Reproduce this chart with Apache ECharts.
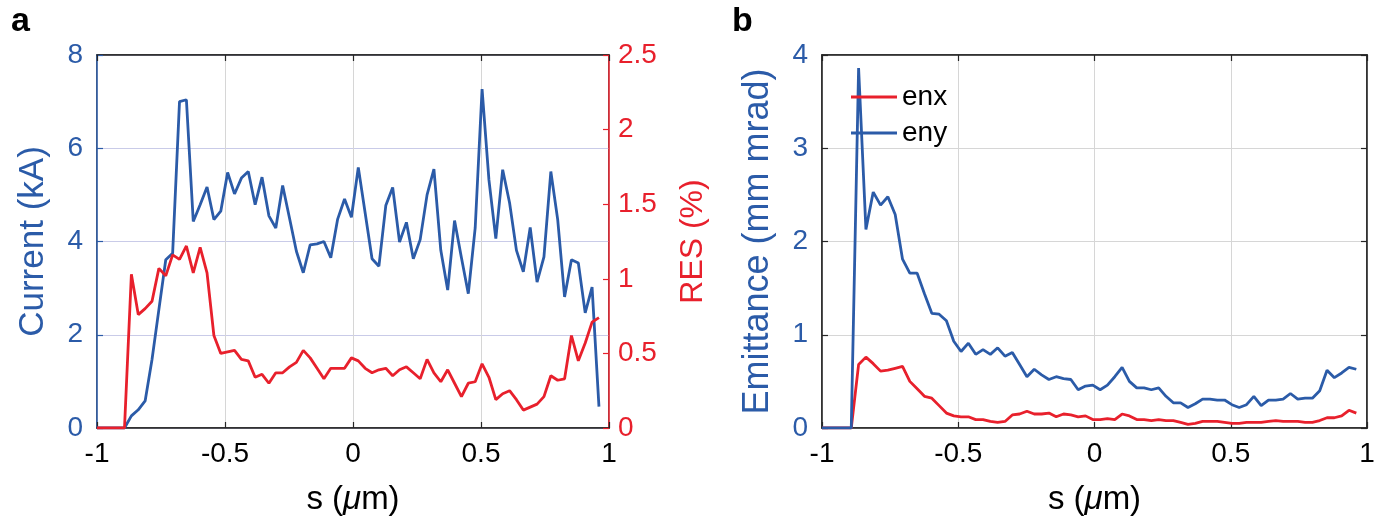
<!DOCTYPE html>
<html>
<head>
<meta charset="utf-8">
<script src="https://cdn.jsdelivr.net/npm/echarts@6/dist/echarts.min.js"></script>
<style>html,body{margin:0;padding:0;background:#fff}#c{width:1387px;height:521px}</style>
</head>
<body>
<div id="c"></div>
<script>
// longitudinal coordinate s (μm)
const sPos = [-1,-0.9731,-0.9463,-0.9194,-0.8926,-0.8657,-0.8388,-0.8120,-0.7851,-0.7583,-0.7314,-0.7045,-0.6777,-0.6508,-0.6240,-0.5971,-0.5702,-0.5434,-0.5165,-0.4897,-0.4628,-0.4359,-0.4091,-0.3822,-0.3554,-0.3285,-0.3016,-0.2748,-0.2479,-0.2211,-0.1942,-0.1673,-0.1405,-0.1136,-0.0868,-0.0599,-0.0330,-0.0062,0.0207,0.0475,0.0744,0.1013,0.1281,0.1550,0.1818,0.2087,0.2356,0.2624,0.2893,0.3161,0.3430,0.3699,0.3967,0.4236,0.4504,0.4773,0.5042,0.5310,0.5579,0.5847,0.6116,0.6385,0.6653,0.6922,0.7190,0.7459,0.7728,0.7996,0.8265,0.8533,0.8802,0.9071,0.9339,0.9608];
// panel a
const current = [0,0,0,0,0,0.26,0.39,0.58,1.47,2.54,3.61,3.75,7.00,7.04,4.43,4.79,5.17,4.47,4.65,5.48,5.02,5.36,5.50,4.79,5.38,4.55,4.29,5.20,4.50,3.79,3.33,3.93,3.95,4.00,3.65,4.48,4.91,4.52,5.59,4.61,3.63,3.47,4.77,5.16,3.99,4.41,3.63,4.04,5.00,5.55,3.81,2.96,4.45,3.65,2.88,4.29,7.27,5.32,4.06,5.54,4.83,3.81,3.35,4.30,3.13,3.67,5.50,4.47,2.81,3.61,3.54,2.47,3.02,0.46];
const res = [0,0,0,0,0,1.03,0.76,0.80,0.85,1.07,1.02,1.16,1.13,1.22,1.04,1.21,1.04,0.62,0.50,0.51,0.52,0.46,0.45,0.34,0.36,0.30,0.37,0.37,0.41,0.44,0.52,0.47,0.40,0.33,0.40,0.40,0.40,0.47,0.45,0.40,0.37,0.39,0.40,0.35,0.39,0.41,0.37,0.33,0.46,0.37,0.31,0.39,0.30,0.21,0.30,0.31,0.43,0.34,0.19,0.23,0.25,0.19,0.12,0.14,0.16,0.21,0.35,0.32,0.33,0.62,0.45,0.57,0.71,0.74];
// panel b
const enx = [0,0,0,0,0,0.68,0.76,0.69,0.61,0.62,0.64,0.66,0.50,0.42,0.34,0.32,0.24,0.16,0.13,0.12,0.12,0.09,0.09,0.07,0.06,0.07,0.14,0.15,0.18,0.15,0.15,0.16,0.12,0.15,0.14,0.12,0.13,0.09,0.09,0.10,0.09,0.15,0.13,0.09,0.09,0.08,0.09,0.08,0.08,0.06,0.04,0.05,0.07,0.07,0.07,0.06,0.05,0.05,0.06,0.06,0.06,0.07,0.08,0.07,0.07,0.07,0.06,0.06,0.08,0.11,0.11,0.13,0.19,0.16];
const eny = [0,0,0,0,0,3.86,2.13,2.53,2.39,2.48,2.29,1.81,1.66,1.66,1.44,1.23,1.22,1.15,0.93,0.82,0.91,0.79,0.84,0.79,0.86,0.77,0.81,0.68,0.55,0.63,0.57,0.52,0.55,0.53,0.52,0.41,0.45,0.46,0.41,0.46,0.55,0.65,0.50,0.43,0.43,0.41,0.43,0.34,0.27,0.27,0.22,0.26,0.31,0.31,0.30,0.30,0.25,0.22,0.25,0.34,0.24,0.30,0.30,0.31,0.37,0.31,0.32,0.32,0.40,0.62,0.54,0.59,0.65,0.63];

const BLUE = '#2b5ba8', RED = '#e8202c', FONT = 'Liberation Sans', INK = '#262626';
const pair = (ys) => sPos.map((s, i) => [s, ys[i]]);

const xBottom = (gi) => ({
  type: 'value', gridIndex: gi, min: -1, max: 1, interval: 0.5, position: 'bottom',
  axisLine: { show: true, onZero: false, lineStyle: { color: INK, width: 1.5 } },
  axisTick: { show: true, inside: true, length: 6, lineStyle: { color: INK, width: 1.2 } },
  axisLabel: { color: '#000', fontSize: 28, fontFamily: FONT, margin: 12 },
  splitLine: { show: true, lineStyle: { color: '#d6d6d6', width: 1 } },
  name: 's ({i|μ}m)', nameLocation: 'middle', nameGap: 55,
  nameTextStyle: { color: '#000', fontSize: 33, fontFamily: FONT, rich: { i: { fontStyle: 'italic', fontSize: 33, fontFamily: FONT } } }
});
const xTop = (gi) => ({
  type: 'value', gridIndex: gi, min: -1, max: 1, interval: 0.5, position: 'top',
  axisLine: { show: true, onZero: false, lineStyle: { color: INK, width: 1.5 } },
  axisTick: { show: true, inside: true, length: 6, lineStyle: { color: INK, width: 1.2 } },
  axisLabel: { show: false }, splitLine: { show: false }
});

const option = {
  animation: false,
  backgroundColor: '#fff',
  title: [
    { text: 'a', left: 6, top: 0, textStyle: { fontSize: 34, fontWeight: 'bold', fontFamily: FONT, color: '#000' } },
    { text: 'b', left: 727, top: 0, textStyle: { fontSize: 34, fontWeight: 'bold', fontFamily: FONT, color: '#000' } }
  ],
  grid: [
    { left: 97, right: 778, top: 55, bottom: 92, show: true, borderColor: INK, borderWidth: 1.5, backgroundColor: 'transparent' },
    { left: 822, right: 20, top: 55, bottom: 92, show: true, borderColor: INK, borderWidth: 1.5, backgroundColor: 'transparent' }
  ],
  legend: {
    data: ['enx', 'eny'], orient: 'vertical', left: 846, top: 77,
    icon: 'rect', itemWidth: 46, itemHeight: 3, itemGap: 6,
    textStyle: { fontSize: 28, fontFamily: FONT, color: '#000', lineHeight: 30 }
  },
  xAxis: [xBottom(0), xTop(0), xBottom(1), xTop(1)],
  yAxis: [
    {
      type: 'value', gridIndex: 0, min: 0, max: 8, interval: 2, position: 'left',
      axisLine: { show: true, onZero: false, lineStyle: { color: BLUE, width: 1.5 } },
      axisTick: { show: true, inside: true, length: 6, lineStyle: { color: BLUE, width: 1.2 } },
      axisLabel: { color: BLUE, fontSize: 28, fontFamily: FONT, margin: 14 },
      splitLine: { show: true, lineStyle: { color: '#c9cbe8', width: 1 } },
      name: 'Current (kA)', nameLocation: 'middle', nameGap: 46, nameRotate: 90,
      nameTextStyle: { color: BLUE, fontSize: 35, fontFamily: FONT }
    },
    {
      type: 'value', gridIndex: 0, min: 0, max: 2.5, interval: 0.5, position: 'right',
      axisLine: { show: true, onZero: false, lineStyle: { color: RED, width: 1.5 } },
      axisTick: { show: true, inside: true, length: 6, lineStyle: { color: RED, width: 1.2 } },
      axisLabel: { color: RED, fontSize: 28, fontFamily: FONT, margin: 9 },
      splitLine: { show: false },
      name: 'RES (%)', nameLocation: 'middle', nameGap: 68, nameRotate: 90,
      nameTextStyle: { color: RED, fontSize: 32, fontFamily: FONT }
    },
    {
      type: 'value', gridIndex: 1, min: 0, max: 4, interval: 1, position: 'left',
      axisLine: { show: true, onZero: false, lineStyle: { color: INK, width: 1.5 } },
      axisTick: { show: true, inside: true, length: 6, lineStyle: { color: INK, width: 1.2 } },
      axisLabel: { color: BLUE, fontSize: 28, fontFamily: FONT, margin: 14 },
      splitLine: { show: true, lineStyle: { color: '#d6d6d6', width: 1 } },
      name: 'Emittance (mm mrad)', nameLocation: 'middle', nameGap: 46, nameRotate: 90,
      nameTextStyle: { color: BLUE, fontSize: 36, fontFamily: FONT }
    },
    {
      type: 'value', gridIndex: 1, min: 0, max: 4, interval: 1, position: 'right',
      axisLine: { show: true, onZero: false, lineStyle: { color: INK, width: 1.5 } },
      axisTick: { show: true, inside: true, length: 6, lineStyle: { color: INK, width: 1.2 } },
      axisLabel: { show: false }, splitLine: { show: false }
    }
  ],
  series: [
    { name: 'Current', type: 'line', xAxisIndex: 0, yAxisIndex: 0, data: pair(current), showSymbol: false, symbol: 'none', color: BLUE, lineStyle: { color: BLUE, width: 2.8 } },
    { name: 'RES', type: 'line', xAxisIndex: 0, yAxisIndex: 1, data: pair(res), showSymbol: false, symbol: 'none', color: RED, lineStyle: { color: RED, width: 2.8 } },
    { name: 'enx', type: 'line', xAxisIndex: 2, yAxisIndex: 2, data: pair(enx), showSymbol: false, symbol: 'none', color: RED, itemStyle: { color: RED }, lineStyle: { color: RED, width: 2.8 } },
    { name: 'eny', type: 'line', xAxisIndex: 2, yAxisIndex: 2, data: pair(eny), showSymbol: false, symbol: 'none', color: BLUE, itemStyle: { color: BLUE }, lineStyle: { color: BLUE, width: 2.8 } }
  ]
};
const chart = echarts.init(document.getElementById('c'), null, { renderer: 'canvas' });
chart.setOption(option);
</script>
</body>
</html>
